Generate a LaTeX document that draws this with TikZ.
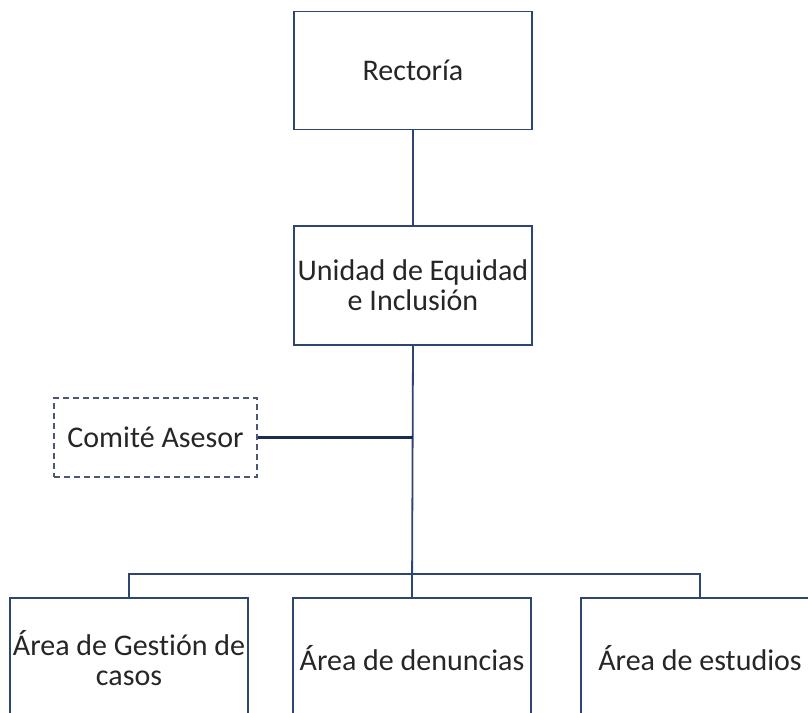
\documentclass[tikz,border=0pt]{standalone}
\usepackage{fontspec}
\setmainfont[Ligatures=NoCommon]{Carlito}
\definecolor{navy}{HTML}{2E4472}
\definecolor{dnavy}{HTML}{1C2B52}
\definecolor{dashc}{HTML}{4E5678}
\definecolor{txt}{HTML}{262626}
\begin{document}
\begin{tikzpicture}[x=1pt,y=-1pt,
  box/.style={draw=navy,line width=1.8pt,fill=white,minimum width=238pt,minimum height=118pt,inner sep=0pt,align=center,text=txt,font=\fontsize{30}{30}\selectfont},
  dbox/.style={draw=dashc,line width=1.8pt,dash pattern=on 6pt off 4pt,fill=white,minimum width=203pt,minimum height=79pt,inner sep=0pt,align=center,text=txt,font=\fontsize{30}{30}\selectfont},
  conn/.style={draw=navy,line width=1.8pt},
  tconn/.style={draw=dnavy,line width=3pt}]
\useasboundingbox (0,0) rectangle (808,712);
\begin{scope}
\clip (0,0) rectangle (808,712);
\node[box] (rect) at (413,70.5) {Rectoría};
\node[box,minimum height=119pt] (unid) at (413,285.5) {Unidad de Equidad\\e Inclusión};
\node[dbox] (com) at (155.5,437.5) {Comité Asesor};
\node[box,minimum height=120pt] (ag) at (129,658) {Área de Gestión de\\casos};
\node[box,minimum height=120pt] (ad) at (412,658) {Área de denuncias};
\node[box,minimum height=120pt] (ae) at (700,658) {Área de estudios};
\coordinate (bus) at (413,574);
\coordinate (cj) at (413,437.5);
\draw[conn] (rect.south) -- (unid.north);
\draw[conn] (unid.south) -- (ad.north);
\draw[tconn] (com.east) -- (cj);
\draw[conn] (ag.north) |- (bus) -| (ae.north);
\end{scope}
\end{tikzpicture}
\end{document}
